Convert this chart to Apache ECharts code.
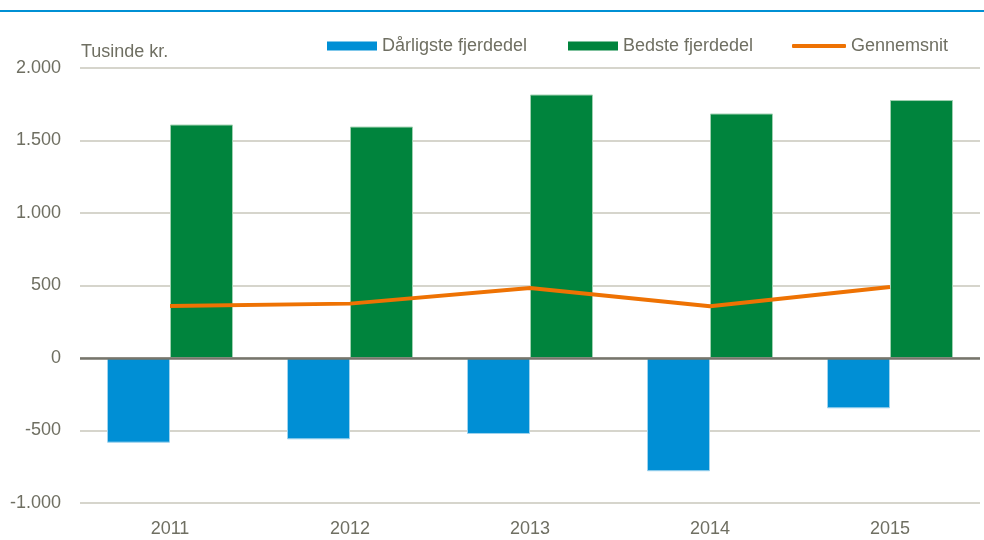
<!DOCTYPE html>
<html>
<head>
<meta charset="utf-8">
<script src="https://cdn.jsdelivr.net/npm/echarts@6/dist/echarts.min.js"></script>
<style>
html,body{margin:0;padding:0;background:#fff;}
#c{width:984px;height:540px;}
</style>
</head>
<body>
<div id="c"></div>
<script>
var categories = ['2011', '2012', '2013', '2014', '2015'];
var worstQuarter = [-584, -561, -524, -781, -347];
var bestQuarter = [1610, 1596, 1817, 1686, 1779];
var average = [359, 375, 483, 357, 490];
var yTicks = [-1000, -500, 0, 500, 1000, 1500, 2000];
var seriesNames = ['Dårligste fjerdedel', 'Bedste fjerdedel', 'Gennemsnit'];
var unitLabel = 'Tusinde kr.';

var FONT = "'Liberation Sans', Arial, sans-serif";
var FS = 18;
var TXT = '#6f6f62';

function fmt(v) {
  var s = Math.abs(v).toString().replace(/\B(?=(\d{3})+(?!\d))/g, '.');
  return (v < 0 ? '-' : '') + s;
}

var chart = echarts.init(document.getElementById('c'), null, {renderer: 'canvas'});
var legendBase = {
  itemWidth: 50, itemHeight: 9, itemGap: 0, top: 32, padding: 5,
  textStyle: {fontFamily: FONT, fontSize: FS, color: TXT},
  selectedMode: false
};
chart.setOption({
  animation: false,
  textStyle: {fontFamily: FONT},
  graphic: [
    {type: 'rect', left: 0, top: 10, shape: {width: 984, height: 2}, style: {fill: '#0090d4'}},
    {type: 'text', left: 81, top: 43, style: {text: unitLabel, fontFamily: FONT, fontSize: FS, fill: TXT}}
  ],
  legend: [
    Object.assign({}, legendBase, {left: 322, data: [{name: seriesNames[0], icon: 'rect', itemStyle: {borderWidth: 0}}]}),
    Object.assign({}, legendBase, {left: 563, data: [{name: seriesNames[1], icon: 'rect', itemStyle: {borderWidth: 0}}]}),
    Object.assign({}, legendBase, {left: 787, itemWidth: 54, itemHeight: 4,
      data: [{name: seriesNames[2], icon: 'roundRect', itemStyle: {color: '#ee7203', borderWidth: 0}}]})
  ],
  grid: {left: 80, right: 4, top: 68, bottom: 37, containLabel: false},
  xAxis: {
    type: 'category',
    data: categories,
    axisLine: {show: false},
    axisTick: {show: false},
    axisLabel: {fontFamily: FONT, fontSize: FS, color: TXT, margin: 17}
  },
  yAxis: {
    type: 'value',
    min: yTicks[0], max: yTicks[yTicks.length - 1], interval: 500,
    axisLine: {show: false},
    axisTick: {show: false},
    axisLabel: {fontFamily: FONT, fontSize: FS, color: TXT, margin: 19, formatter: fmt},
    splitLine: {lineStyle: {color: '#c9c7bb', width: 1.5}}
  },
  series: [
    {
      name: seriesNames[0], type: 'bar', data: worstQuarter, barWidth: 63, barGap: '0%',
      itemStyle: {color: '#008fd5', borderColor: '#9fd3ee', borderWidth: 1},
      markLine: {
        silent: true, symbol: 'none', label: {show: false},
        lineStyle: {color: '#76756b', width: 2.5, type: 'solid'},
        data: [{yAxis: 0}]
      },
      z: 2
    },
    {
      name: seriesNames[1], type: 'bar', data: bestQuarter, barWidth: 63, barGap: '0%',
      itemStyle: {color: '#00843d', borderColor: '#9fd0b0', borderWidth: 1},
      z: 2
    },
    {
      name: seriesNames[2], type: 'line', data: average,
      symbol: 'none', showSymbol: false,
      lineStyle: {color: '#ee7203', width: 4},
      itemStyle: {color: '#ee7203'},
      z: 5
    }
  ]
});
</script>
</body>
</html>
